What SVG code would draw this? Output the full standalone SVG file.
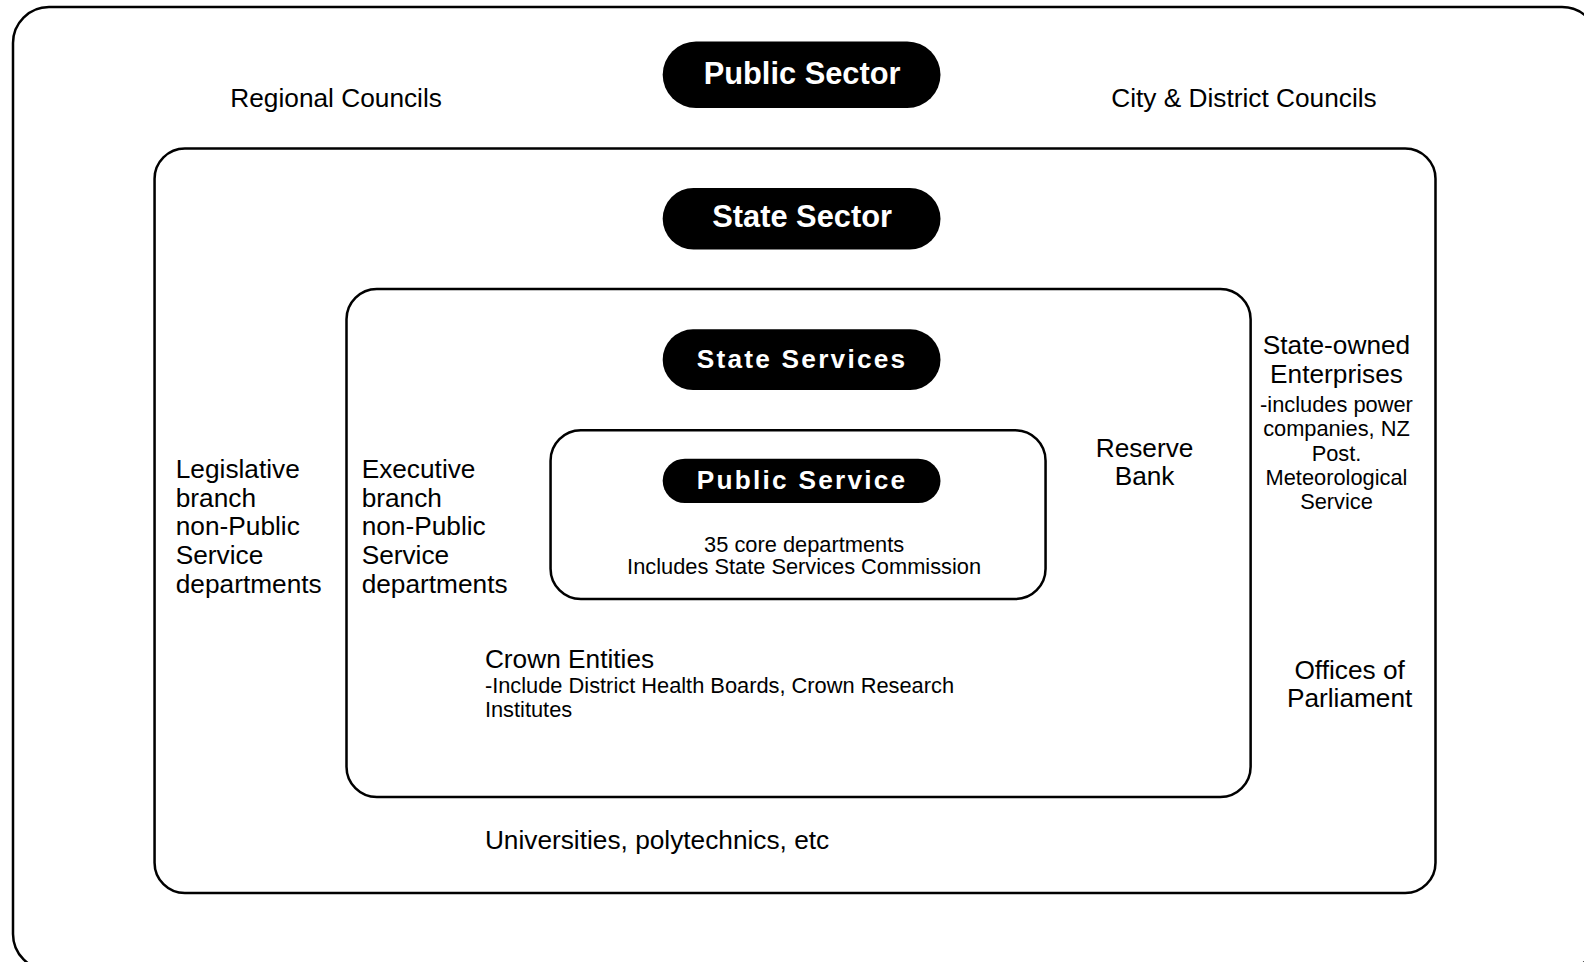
<svg xmlns="http://www.w3.org/2000/svg" width="1584" height="962" viewBox="0 0 1584 962">
<style>
.box{fill:#fff;stroke:#000;stroke-width:2.5}
.pill{fill:#000}
.pt{font-family:"Liberation Sans",Arial,sans-serif;font-weight:bold;fill:#fff;text-anchor:middle}
.t{font-family:"Liberation Sans",Arial,sans-serif;fill:#000;font-size:26px}
.s{font-family:"Liberation Sans",Arial,sans-serif;fill:#000;font-size:21.6px}
.c{text-anchor:middle}
</style>
<rect width="1584" height="962" fill="#fff"/>
<g id="public-sector">
<rect class="box" x="13" y="7" width="1585" height="963" rx="36"/>
</g>
<g transform="scale(1.0102)">
<g id="public-sector-label">
<rect class="pill" x="656" y="41" width="275" height="66" rx="33"/>
<text class="pt" x="794" y="83" font-size="30.5">Public Sector</text>
</g>
<g id="regional-councils"><text class="t" x="228" y="106">Regional Councils</text></g>
<g id="city-district-councils"><text class="t" x="1100" y="106">City &amp; District Councils</text></g>
<g id="state-sector">
<rect class="box" x="153" y="147" width="1268" height="737" rx="30"/>
<rect class="pill" x="656" y="186" width="275" height="61" rx="30.5"/>
<text class="pt" x="794" y="225" font-size="30.5">State Sector</text>
</g>
<g id="legislative">
<text class="t" x="174" y="473">Legislative</text>
<text class="t" x="174" y="502">branch</text>
<text class="t" x="174" y="530">non-Public</text>
<text class="t" x="174" y="558">Service</text>
<text class="t" x="174" y="587">departments</text>
</g>
<g id="soe">
<text class="t c" x="1323" y="350">State-owned</text>
<text class="t c" x="1323" y="379">Enterprises</text>
<text class="s c" x="1323" y="408">-includes power</text>
<text class="s c" x="1323" y="432">companies, NZ</text>
<text class="s c" x="1323" y="456">Post.</text>
<text class="s c" x="1323" y="480">Meteorological</text>
<text class="s c" x="1323" y="504">Service</text>
</g>
<g id="offices-of-parliament">
<text class="t c" x="1336" y="672">Offices of</text>
<text class="t c" x="1336" y="700">Parliament</text>
</g>
<g id="universities"><text class="t" x="480" y="840">Universities, polytechnics, etc</text></g>
<g id="state-services">
<rect class="box" x="343" y="286" width="895" height="503" rx="30"/>
<rect class="pill" x="656" y="326" width="275" height="60" rx="30"/>
<text class="pt" x="794" y="364" font-size="26" letter-spacing="2.2">State Services</text>
</g>
<g id="executive">
<text class="t" x="358" y="473">Executive</text>
<text class="t" x="358" y="502">branch</text>
<text class="t" x="358" y="530">non-Public</text>
<text class="t" x="358" y="558">Service</text>
<text class="t" x="358" y="587">departments</text>
</g>
<g id="reserve-bank">
<text class="t c" x="1133" y="452">Reserve</text>
<text class="t c" x="1133" y="480">Bank</text>
</g>
<g id="crown-entities">
<text class="t" x="480" y="661">Crown Entities</text>
<text class="s" x="480" y="686">-Include District Health Boards, Crown Research</text>
<text class="s" x="480" y="710">Institutes</text>
</g>
<g id="public-service">
<rect class="box" x="545" y="426" width="490" height="167" rx="30"/>
<rect class="pill" x="656" y="454" width="275" height="44" rx="22"/>
<text class="pt" x="794" y="484" font-size="26" letter-spacing="2.2">Public Service</text>
<text class="s c" x="796" y="546">35 core departments</text>
<text class="s c" x="796" y="568">Includes State Services Commission</text>
</g>
</g>
<g id="connectors"></g>
</svg>
